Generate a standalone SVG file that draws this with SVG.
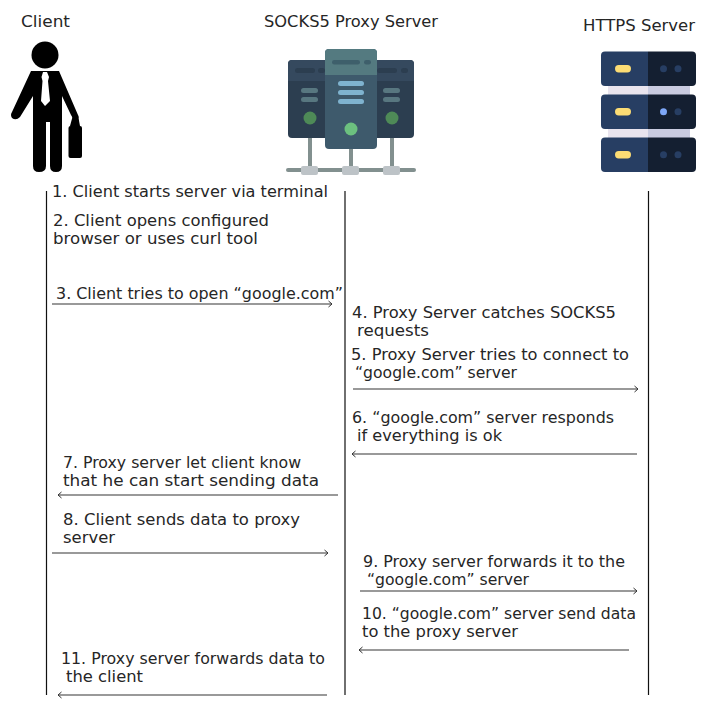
<svg xmlns="http://www.w3.org/2000/svg" width="719" height="727" viewBox="0 0 719 727">
<style>
text{font-family:"DejaVu Sans","Liberation Sans",sans-serif;font-size:15.3px;fill:#262626}
.life{stroke:#111;stroke-width:1.2;fill:none}
.arr{stroke:#777;stroke-width:1.7;fill:none;marker-end:url(#a)}
</style>
<defs>
<marker id="a" markerUnits="userSpaceOnUse" markerWidth="10" markerHeight="10" refX="7" refY="4" orient="auto"><path d="M3.500,1L7,4L3.500,7" fill="none" stroke="#333" stroke-width="1"/></marker>
</defs>
<rect width="719" height="727" fill="#fff"/>
<g id="client">
<text x="21" y="27" textLength="49" lengthAdjust="spacingAndGlyphs">Client</text>
<circle cx="45" cy="55" r="13.5" fill="#000"/>
<path d="M31 71H59L78 115Q80 120 75 119Q72 118 71 115L62 96V166Q62 172 56 172Q50 172 50 166V122H46V166Q46 172 39 172Q33 172 33 166V96L20 117Q16 121 12 118Q10 115 12 112Z" fill="#000"/>
<path d="M43 72H47L49 77L48 81L50 101L45 106L41 101L42.500 81L41.500 77Z" fill="#fff"/>
<path d="M73 115L78 115L80 126H70Z" fill="#000"/>
<rect x="68.500" y="126" width="13.500" height="32" rx="2" fill="#000"/>
</g>
<g id="proxy">
<text x="264" y="27" textLength="174" lengthAdjust="spacingAndGlyphs">SOCKS5 Proxy Server</text>
<path d="M310 135V168M351 135V168M392 135V168" stroke="#82908f" stroke-width="4"/>
<rect x="286" y="168" width="130" height="4" rx="2" fill="#82908f"/>
<rect x="301" y="166" width="17" height="9" rx="2" fill="#bdc3c7"/><rect x="342" y="166" width="17" height="9" rx="2" fill="#bdc3c7"/><rect x="383" y="166" width="17" height="9" rx="2" fill="#bdc3c7"/>
<rect x="288" y="60" width="126" height="78" rx="4" fill="#2c3e50"/>
<path d="M288 81V64Q288 60 292 60H410Q414 60 414 64V81Z" fill="#35495e"/>
<rect x="295" y="68" width="20" height="5" rx="2.500" fill="#2c3e50"/><rect x="318" y="68" width="7" height="5" rx="2.500" fill="#2c3e50"/>
<rect x="377" y="68" width="20" height="5" rx="2.500" fill="#2c3e50"/><rect x="401" y="68" width="7" height="5" rx="2.500" fill="#2c3e50"/>
<rect x="301" y="88" width="17" height="5" rx="2.500" fill="#587780"/><rect x="301" y="97" width="17" height="5" rx="2.500" fill="#587780"/>
<rect x="383" y="88" width="17" height="5" rx="2.500" fill="#587780"/><rect x="383" y="97" width="17" height="5" rx="2.500" fill="#587780"/>
<circle cx="310" cy="118" r="6.500" fill="#4e8a57"/><circle cx="392" cy="118" r="6.500" fill="#4e8a57"/>
<rect x="325" y="49" width="52" height="100" rx="4" fill="#3e5a6c"/>
<path d="M325 75V53Q325 49 329 49H373Q377 49 377 53V75Z" fill="#547a80"/>
<rect x="332" y="60" width="28" height="4.500" rx="2.200" fill="#3e5f6b"/><rect x="364" y="60" width="7" height="4.500" rx="2.200" fill="#3e5f6b"/>
<rect x="338" y="81" width="26" height="5" rx="2.500" fill="#7fb3cf"/><rect x="338" y="90" width="26" height="5" rx="2.500" fill="#7fb3cf"/><rect x="338" y="99" width="26" height="5" rx="2.500" fill="#7fb3cf"/>
<circle cx="351" cy="129" r="6.500" fill="#6cc07f"/>
</g>
<g id="https">
<text x="583" y="31" textLength="112" lengthAdjust="spacingAndGlyphs">HTTPS Server</text>
<path d="M608 85H648V138H608Z" fill="#e9e4ee"/><path d="M648 85H690V138H648Z" fill="#c9cbe0"/>
<g id="rack1"><path d="M648 51.500H605Q601 51.500 601 55.500V82Q601 86 605 86H648Z" fill="#273e63"/><path d="M648 51.500H692Q696 51.500 696 55.500V82Q696 86 692 86H648Z" fill="#141f31"/><rect x="615" y="65" width="16" height="7.500" rx="3.700" fill="#fcdc74"/><circle cx="663.500" cy="68.700" r="3.500" fill="#273e63"/><circle cx="678" cy="68.700" r="3.500" fill="#273e63"/></g>
<g id="rack2"><path d="M648 94.500H605Q601 94.500 601 98.500V125Q601 129 605 129H648Z" fill="#273e63"/><path d="M648 94.500H692Q696 94.500 696 98.500V125Q696 129 692 129H648Z" fill="#141f31"/><rect x="615" y="108" width="16" height="7.500" rx="3.700" fill="#fcdc74"/><circle cx="663.500" cy="111.700" r="3.500" fill="#7ea8f8"/><circle cx="678" cy="111.700" r="3.500" fill="#273e63"/></g>
<g id="rack3"><path d="M648 137.500H605Q601 137.500 601 141.500V168Q601 172 605 172H648Z" fill="#273e63"/><path d="M648 137.500H692Q696 137.500 696 141.500V168Q696 172 692 172H648Z" fill="#141f31"/><rect x="615" y="151" width="16" height="7.500" rx="3.700" fill="#fcdc74"/><circle cx="663.500" cy="154.700" r="3.500" fill="#273e63"/><circle cx="678" cy="154.700" r="3.500" fill="#273e63"/></g>
</g>
<g id="connectors">
<path class="life" d="M46.500 191V695M345 191V695M648.500 191V695"/>
<path class="arr" d="M52 304H332"/>
<path class="arr" d="M353 389H638"/>
<path class="arr" d="M637 454H352"/>
<path class="arr" d="M338 495H58"/>
<path class="arr" d="M52 553H328"/>
<path class="arr" d="M360 591H637"/>
<path class="arr" d="M629 650H359"/>
<path class="arr" d="M327 695H58"/>
</g>
<g id="labels">
<text x="52" y="197" textLength="276" lengthAdjust="spacingAndGlyphs">1. Client starts server via terminal</text>
<text x="53" y="226" textLength="216" lengthAdjust="spacingAndGlyphs">2. Client opens configured</text>
<text x="53" y="244" textLength="205" lengthAdjust="spacingAndGlyphs">browser or uses curl tool</text>
<text x="56" y="299" textLength="287" lengthAdjust="spacingAndGlyphs">3. Client tries to open “google.com”</text>
<text x="352" y="318" textLength="264" lengthAdjust="spacingAndGlyphs">4. Proxy Server catches SOCKS5</text>
<text x="357" y="336" textLength="72" lengthAdjust="spacingAndGlyphs">requests</text>
<text x="351" y="360" textLength="278" lengthAdjust="spacingAndGlyphs">5. Proxy Server tries to connect to</text>
<text x="355" y="378" textLength="162" lengthAdjust="spacingAndGlyphs">“google.com” server</text>
<text x="352" y="423" textLength="262" lengthAdjust="spacingAndGlyphs">6. “google.com” server responds</text>
<text x="357" y="441" textLength="145" lengthAdjust="spacingAndGlyphs">if everything is ok</text>
<text x="63" y="468" textLength="238" lengthAdjust="spacingAndGlyphs">7. Proxy server let client know</text>
<text x="63" y="486" textLength="256" lengthAdjust="spacingAndGlyphs">that he can start sending data</text>
<text x="63" y="525" textLength="237" lengthAdjust="spacingAndGlyphs">8. Client sends data to proxy</text>
<text x="63" y="543" textLength="52" lengthAdjust="spacingAndGlyphs">server</text>
<text x="363" y="567" textLength="262" lengthAdjust="spacingAndGlyphs">9. Proxy server forwards it to the</text>
<text x="367" y="585" textLength="162" lengthAdjust="spacingAndGlyphs">“google.com” server</text>
<text x="362" y="619" textLength="274" lengthAdjust="spacingAndGlyphs">10. “google.com” server send data</text>
<text x="362" y="637" textLength="156" lengthAdjust="spacingAndGlyphs">to the proxy server</text>
<text x="61" y="664" textLength="264" lengthAdjust="spacingAndGlyphs">11. Proxy server forwards data to</text>
<text x="66" y="682" textLength="77" lengthAdjust="spacingAndGlyphs">the client</text>
</g>
</svg>
